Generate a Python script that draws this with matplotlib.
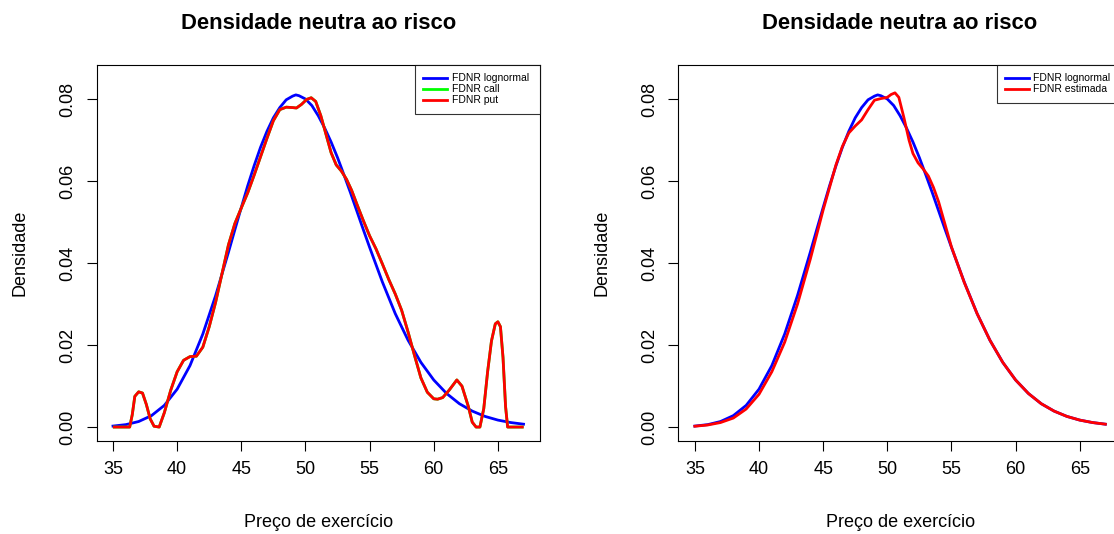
import matplotlib.pyplot as plt

plt.rcParams['font.family'] = ['Liberation Sans', 'DejaVu Sans']

# FDNR lognormal
x_logn = [35, 36, 37, 38, 39, 40, 41, 42, 43, 44, 44.5, 45, 45.5, 46, 46.5,
          47, 47.5, 48, 48.5, 49, 49.25, 49.5, 50, 50.5, 51, 51.5, 52, 52.5,
          53, 53.5, 54, 54.5, 55, 56, 57, 58, 59, 60, 61, 62, 63, 64, 65,
          66, 67]
y_logn = [0.00024, 0.00059, 0.00135, 0.00279, 0.00529, 0.00925, 0.0150,
          0.0227, 0.0321, 0.0427, 0.0482, 0.0536, 0.0589, 0.0638, 0.0683,
          0.0722, 0.0755, 0.0780, 0.0799, 0.0808, 0.0811, 0.0809, 0.0801,
          0.0785, 0.0760, 0.0730, 0.0696, 0.0658, 0.0616, 0.0573, 0.0528,
          0.0483, 0.0439, 0.0354, 0.0277, 0.0212, 0.0158, 0.0115, 0.0082,
          0.0057, 0.0039, 0.0026, 0.0017, 0.0011, 0.0007]

# FDNR call / put (left panel, the two curves coincide)
x_put = [35.1, 36.0, 36.3, 36.5, 36.7, 37.0, 37.3, 37.6, 37.9, 38.2, 38.6,
         39.0, 39.5, 40.0, 40.5, 41.0, 41.5, 42.0, 42.5, 43.0, 43.5, 44.0,
         44.5, 45.0, 45.5, 46.0, 46.5, 47.0, 47.5, 48.0, 48.5, 49.0, 49.3,
         49.7, 50.1, 50.45, 50.8, 51.2, 51.6, 52.0, 52.4, 52.8, 53.2, 53.6,
         54.0, 54.5, 55.0, 55.5, 56.0, 56.5, 57.0, 57.5, 58.0, 58.5, 59.0,
         59.5, 60.0, 60.3, 60.7, 61.2, 61.8, 62.2, 62.7, 63.0, 63.3, 63.6,
         63.9, 64.2, 64.5, 64.8, 65.0, 65.2, 65.4, 65.6, 65.76, 66.9]
y_put = [0.0, 0.0, 0.0, 0.0030, 0.0075, 0.0086, 0.0083, 0.0055, 0.0020,
         0.0002, 0.0, 0.0035, 0.0090, 0.0135, 0.0163, 0.0172, 0.0173, 0.0195,
         0.0245, 0.0305, 0.0375, 0.0445, 0.0497, 0.0535, 0.0572, 0.0615,
         0.0660, 0.0705, 0.0748, 0.0775, 0.0781, 0.0780, 0.0779, 0.0788,
         0.0800, 0.0804, 0.0795, 0.0760, 0.0715, 0.0670, 0.0640, 0.0625,
         0.0605, 0.0578, 0.0545, 0.0505, 0.0467, 0.0435, 0.0398, 0.0360,
         0.0325, 0.0285, 0.0232, 0.0175, 0.0120, 0.0085, 0.0069, 0.0068,
         0.0072, 0.0090, 0.0115, 0.0100, 0.0050, 0.0012, 0.0, 0.0, 0.0045,
         0.0135, 0.0210, 0.0252, 0.0257, 0.0245, 0.0170, 0.0050, 0.0, 0.0]
x_call = x_put
y_call = y_put

# FDNR estimada (right panel)
x_est = [35, 36, 37, 38, 39, 40, 41, 42, 43, 44, 45, 46, 46.5, 47, 47.5, 48,
         48.5, 49, 49.5, 50, 50.3, 50.6, 50.9, 51.3, 51.7, 52.0, 52.4, 52.8,
         53.2, 53.6, 54, 55, 56, 57, 58, 59, 60, 61, 62, 63, 64, 65, 66, 67]
y_est = [0.0002, 0.0005, 0.0011, 0.0022, 0.0044, 0.0080, 0.0135, 0.0207,
         0.0300, 0.0410, 0.0530, 0.0640, 0.0685, 0.0718, 0.0735, 0.0750,
         0.0775, 0.0798, 0.0802, 0.0805, 0.0812, 0.0816, 0.0805, 0.0755,
         0.0700, 0.0668, 0.0645, 0.0630, 0.0613, 0.0585, 0.0550, 0.0440,
         0.0353, 0.0277, 0.0212, 0.0158, 0.0115, 0.0082, 0.0057, 0.0039,
         0.0026, 0.0017, 0.0011, 0.0007]

x_ticks = [35, 40, 45, 50, 55, 60, 65]
y_ticks = [0.00, 0.02, 0.04, 0.06, 0.08]

fig = plt.figure(figsize=(11.14, 5.34), dpi=100)
ax1 = fig.add_axes([0.0867, 0.1742, 0.398, 0.7041])
ax2 = fig.add_axes([0.609, 0.1742, 0.398, 0.7041])

ax1.plot(x_logn, y_logn, color='#0000ff', lw=2, label='FDNR lognormal ')
ax1.plot(x_call, y_call, color='#00ff00', lw=2, label='FDNR call')
ax1.plot(x_put, y_put, color='#ff0000', lw=2, label='FDNR put')

ax2.plot(x_logn, y_logn, color='#0000ff', lw=2, label='FDNR lognormal ')
ax2.plot(x_est, y_est, color='#ff0000', lw=2, label='FDNR estimada')

for ax in (ax1, ax2):
    ax.set_xlim(33.72, 68.28)
    ax.set_ylim(-0.0034, 0.0884)
    ax.set_xticks(x_ticks)
    ax.set_yticks(y_ticks)
    ax.set_yticklabels(['%.2f' % v for v in y_ticks], rotation=90, va='center')
    ax.tick_params(direction='out', length=7.5, width=0.8, labelsize=13, pad=7)
    for s in ax.spines.values():
        s.set_linewidth(0.8)
    ax.set_title('Densidade neutra ao risco', fontsize=15.8, fontweight='bold', pad=26)
    ax.set_xlabel('Preço de exercício', fontsize=13, labelpad=26)
    ax.set_ylabel('Densidade', fontsize=13, labelpad=22)
    leg = ax.legend(loc='upper right', fontsize=7.5, borderaxespad=0,
                    fancybox=False, edgecolor='black', handlelength=2.3,
                    handletextpad=0.4, labelspacing=0.1, borderpad=0.8)
    leg.get_frame().set_linewidth(0.8)

fig.savefig('out.png', dpi=100)
